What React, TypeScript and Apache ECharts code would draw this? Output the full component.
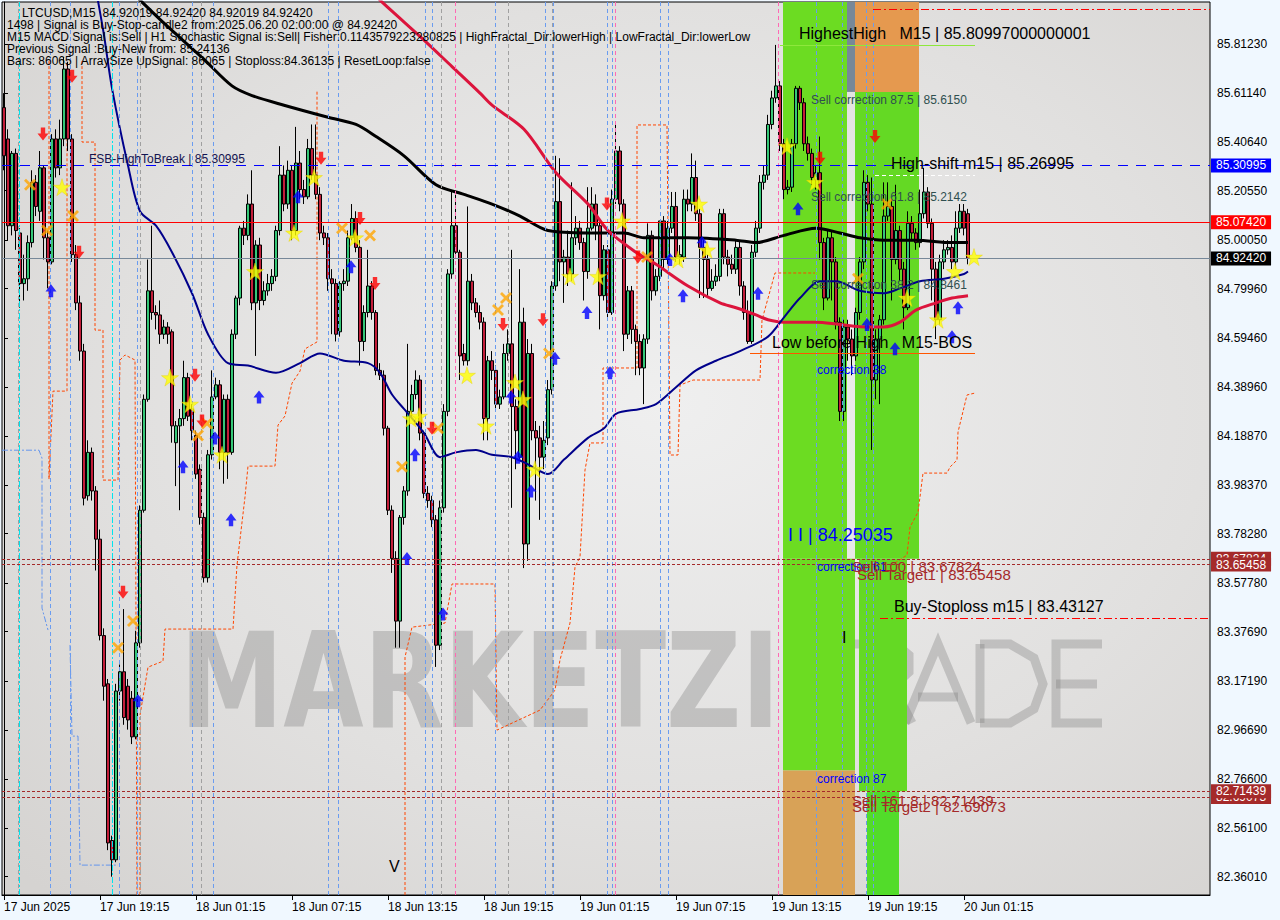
import React, { useEffect, useRef } from 'react';
import * as echarts from 'echarts';

// ---------- data ----------
const tickLabels = ['17 Jun 2025', '17 Jun 19:15', '18 Jun 01:15', '18 Jun 07:15', '18 Jun 13:15', '18 Jun 19:15', '19 Jun 01:15', '19 Jun 07:15', '19 Jun 13:15', '19 Jun 19:15', '20 Jun 01:15'];
const barsPerTick = 24;
const slotCount = 302;

const opens = [
  85.55, 85.42, 85.06, 85.36, 85.03, 84.82, 84.84, 84.99, 85.24, 85.12,
  85.30, 85.01, 84.91, 85.42, 85.30, 85.42, 85.71, 85.42, 84.94, 84.74,
  84.54, 83.94, 84.12, 83.96, 83.76, 83.36, 83.16, 82.51, 82.43, 83.13,
  83.21, 83.15, 83.10, 82.94, 83.33, 83.88, 84.34, 84.79, 84.70, 84.69,
  84.61, 84.64, 84.62, 84.16, 84.23, 84.26, 84.43, 84.30, 84.19, 84.05,
  83.85, 83.60, 84.11, 84.35, 84.40, 84.12, 84.34, 84.12, 84.61, 84.76,
  85.05, 85.02, 85.15, 84.74, 84.98, 84.75, 84.79, 84.82, 84.85, 85.04,
  85.27, 85.15, 85.29, 85.04, 85.32, 85.21, 85.18, 85.38, 85.27, 85.19,
  85.03, 85.01, 84.84, 84.82, 84.62, 84.82, 84.83, 85.01, 85.09, 84.97,
  84.58, 84.70, 84.81, 84.70, 84.46, 84.44, 84.22, 83.88, 83.68, 83.42,
  83.85, 83.96, 84.29, 84.36, 84.42, 84.20, 83.95, 83.92, 83.84, 83.32,
  83.89, 84.29, 84.86, 85.06, 84.95, 84.53, 84.50, 84.83, 84.74, 84.70,
  84.66, 84.26, 84.50, 84.46, 84.32, 84.35, 84.53, 84.57, 84.31, 84.10,
  84.66, 83.74, 84.53, 84.21, 84.18, 84.10, 84.18, 84.38, 84.81, 85.16,
  84.91, 84.93, 84.86, 85.01, 85.05, 84.99, 84.87, 85.05, 85.15, 85.06,
  84.77, 84.96, 84.70, 85.17, 85.37, 85.15, 84.61, 84.79, 84.63, 84.58,
  84.47, 84.59, 85.02, 84.79, 84.85, 85.08, 84.92, 85.05, 85.14, 84.93,
  84.93, 85.17, 85.15, 85.26, 85.11, 84.97, 84.92, 84.80, 84.83, 84.85,
  85.11, 84.93, 84.90, 84.88, 84.97, 84.81, 84.70, 84.58, 84.95, 85.05,
  85.24, 85.27, 85.48, 85.59, 85.64, 85.40, 85.21, 85.22, 85.40, 85.63,
  85.57, 85.40, 85.36, 85.25, 85.28, 84.99, 84.76, 85.01, 84.91, 84.66,
  84.29, 84.64, 84.59, 84.52, 84.70, 84.91, 85.24, 85.15, 84.42, 84.59,
  84.67, 85.10, 85.14, 84.92, 85.04, 84.88, 84.72, 85.07, 85.03, 84.99,
  85.11, 85.20, 85.07, 84.88, 84.67, 84.91, 84.96, 84.97, 84.91, 85.05,
  85.12, 85.11,
];
const closes = [
  85.35, 85.06, 85.36, 85.04, 84.82, 84.84, 84.99, 85.24, 85.14, 85.30,
  85.01, 84.91, 85.42, 85.30, 85.42, 85.71, 85.42, 84.94, 84.74, 84.54,
  83.93, 84.12, 83.96, 83.76, 83.36, 83.15, 82.50, 82.43, 83.13, 83.21,
  83.02, 83.01, 82.94, 83.33, 83.88, 84.34, 84.79, 84.70, 84.69, 84.61,
  84.64, 84.61, 84.23, 84.23, 84.26, 84.43, 84.27, 84.21, 84.03, 83.85,
  83.60, 84.11, 84.35, 84.40, 84.12, 84.34, 84.12, 84.61, 84.76, 85.05,
  85.02, 85.15, 84.74, 84.98, 84.75, 84.79, 84.82, 84.85, 85.04, 85.27,
  85.15, 85.29, 85.04, 85.32, 85.21, 85.18, 85.38, 85.27, 85.19, 85.03,
  85.01, 84.84, 84.82, 84.61, 84.82, 84.83, 85.01, 85.09, 84.97, 84.58,
  84.70, 84.81, 84.70, 84.46, 84.44, 84.22, 83.88, 83.68, 83.42, 83.85,
  83.96, 84.29, 84.36, 84.42, 84.20, 83.95, 83.92, 83.84, 83.32, 83.89,
  84.29, 84.86, 85.06, 84.95, 84.52, 84.50, 84.83, 84.74, 84.70, 84.66,
  84.26, 84.50, 84.46, 84.32, 84.35, 84.53, 84.57, 84.31, 84.21, 84.66,
  83.74, 84.53, 84.21, 84.18, 84.10, 84.17, 84.38, 84.81, 85.16, 84.91,
  84.93, 84.86, 85.01, 85.05, 84.99, 84.87, 85.05, 85.15, 85.06, 84.77,
  84.96, 84.70, 85.17, 85.37, 85.15, 84.61, 84.79, 84.63, 84.58, 84.47,
  84.59, 85.02, 84.79, 84.85, 85.08, 84.92, 85.05, 85.14, 84.93, 84.94,
  85.17, 85.15, 85.26, 85.11, 84.97, 84.92, 84.80, 84.83, 84.85, 85.11,
  84.93, 84.90, 84.88, 84.97, 84.81, 84.70, 84.58, 84.95, 85.05, 85.24,
  85.27, 85.48, 85.59, 85.64, 85.40, 85.21, 85.22, 85.40, 85.63, 85.57,
  85.40, 85.36, 85.26, 85.28, 84.99, 84.76, 85.01, 84.91, 84.66, 84.29,
  84.64, 84.59, 84.52, 84.70, 84.91, 85.24, 85.15, 84.42, 84.59, 84.67,
  85.10, 85.14, 84.92, 85.04, 84.88, 84.72, 85.07, 85.03, 84.99, 85.11,
  85.20, 85.07, 84.88, 84.67, 84.91, 84.96, 84.97, 84.91, 85.05, 85.12,
  85.05, 84.924,
];
const highs = [
  85.61, 85.46, 85.37, 85.38, 85.05, 84.94, 85.02, 85.29, 85.27, 85.37,
  85.31, 85.04, 85.44, 85.46, 85.50, 85.76, 85.74, 85.44, 84.98, 84.77,
  84.57, 84.17, 84.14, 83.98, 83.80, 83.39, 83.18, 82.53, 83.16, 83.24,
  83.47, 83.18, 83.13, 83.38, 83.90, 84.36, 84.92, 85.06, 84.73, 84.75,
  84.67, 84.66, 84.63, 84.25, 84.30, 84.50, 84.45, 84.32, 84.21, 84.07,
  83.87, 84.13, 84.46, 84.43, 84.42, 84.36, 84.36, 84.63, 84.77, 85.06,
  85.08, 85.19, 85.29, 85.00, 85.01, 84.83, 84.86, 84.88, 85.06, 85.39,
  85.31, 85.33, 85.31, 85.47, 85.37, 85.25, 85.42, 85.48, 85.48, 85.22,
  85.06, 85.03, 84.88, 84.84, 84.83, 84.88, 85.04, 85.15, 85.12, 85.00,
  84.73, 84.96, 84.83, 84.71, 84.49, 84.46, 84.23, 83.90, 83.71, 83.86,
  83.98, 84.57, 84.40, 84.46, 84.44, 84.21, 83.98, 83.94, 83.86, 83.92,
  84.32, 84.88, 85.20, 85.20, 84.96, 84.57, 85.14, 84.86, 84.76, 84.73,
  84.68, 84.52, 84.54, 84.48, 84.38, 84.57, 84.63, 84.96, 84.34, 84.88,
  84.72, 84.59, 84.57, 84.25, 84.23, 84.25, 84.42, 84.83, 85.35, 85.34,
  84.96, 85.04, 85.24, 85.10, 85.08, 85.01, 85.22, 85.22, 85.19, 85.09,
  84.98, 84.98, 85.21, 85.49, 85.39, 85.17, 84.81, 84.81, 84.65, 84.61,
  84.61, 85.07, 85.04, 84.88, 85.08, 85.10, 85.08, 85.20, 85.20, 84.98,
  85.21, 85.21, 85.36, 85.33, 85.13, 85.00, 84.94, 84.88, 84.90, 85.13,
  85.13, 84.96, 84.94, 85.00, 85.00, 84.83, 84.75, 84.98, 85.08, 85.27,
  85.31, 85.52, 85.62, 85.81, 85.66, 85.42, 85.25, 85.42, 85.64, 85.64,
  85.59, 85.43, 85.38, 85.31, 85.43, 85.01, 85.04, 85.04, 84.93, 84.68,
  84.67, 84.67, 84.63, 84.72, 84.93, 85.29, 85.27, 85.26, 84.63, 84.69,
  85.24, 85.24, 85.17, 85.23, 85.06, 84.91, 85.12, 85.10, 85.05, 85.21,
  85.30, 85.22, 85.09, 84.91, 84.94, 85.00, 85.00, 85.02, 85.12, 85.15,
  85.15, 85.13,
];
const lows = [
  85.29, 85.00, 85.02, 84.96, 84.72, 84.75, 84.79, 84.97, 85.10, 85.08,
  84.92, 84.80, 84.90, 85.26, 85.27, 85.39, 85.37, 84.91, 84.71, 84.50,
  83.90, 83.92, 83.92, 83.63, 83.34, 83.09, 82.47, 82.36, 82.42, 83.09,
  82.99, 82.97, 82.91, 82.93, 83.31, 83.87, 84.33, 84.67, 84.63, 84.57,
  84.59, 84.57, 84.16, 83.98, 83.88, 84.23, 84.25, 84.17, 84.01, 83.82,
  83.58, 83.58, 84.09, 84.34, 84.05, 83.99, 84.01, 84.11, 84.59, 84.73,
  84.98, 85.00, 84.71, 84.52, 84.71, 84.73, 84.77, 84.79, 84.83, 85.02,
  85.12, 85.13, 85.00, 85.02, 85.17, 85.15, 85.17, 85.25, 85.17, 85.00,
  84.98, 84.79, 84.61, 84.58, 84.60, 84.79, 84.81, 85.00, 84.95, 84.48,
  84.54, 84.68, 84.67, 84.44, 84.42, 84.19, 83.86, 83.62, 83.31, 83.31,
  83.82, 83.94, 84.26, 84.34, 84.17, 83.93, 83.89, 83.81, 83.23, 83.30,
  83.87, 84.27, 84.84, 84.93, 84.42, 84.48, 84.48, 84.71, 84.68, 84.63,
  84.17, 84.17, 84.42, 84.30, 84.30, 84.34, 84.50, 83.89, 84.05, 84.09,
  83.64, 83.67, 84.17, 83.92, 83.84, 84.05, 84.15, 84.36, 84.79, 84.83,
  84.74, 84.81, 84.83, 84.98, 84.96, 84.75, 84.84, 85.04, 85.00, 84.63,
  84.75, 84.67, 84.69, 85.15, 85.12, 84.54, 84.59, 84.57, 84.44, 84.44,
  84.32, 84.57, 84.75, 84.77, 84.83, 84.88, 84.90, 85.03, 84.91, 84.90,
  84.91, 85.12, 85.12, 85.08, 84.76, 84.76, 84.76, 84.79, 84.81, 84.83,
  84.90, 84.85, 84.86, 84.86, 84.77, 84.67, 84.57, 84.57, 84.93, 85.03,
  85.21, 85.25, 85.46, 85.57, 85.37, 85.17, 85.19, 85.20, 85.38, 85.54,
  85.37, 85.33, 85.23, 85.21, 84.92, 84.71, 84.75, 84.75, 84.63, 84.25,
  84.25, 84.50, 84.44, 84.50, 84.67, 84.88, 85.12, 84.13, 84.34, 84.32,
  84.65, 85.08, 84.75, 84.90, 84.83, 84.63, 84.71, 85.00, 84.96, 84.97,
  85.09, 85.05, 84.75, 84.59, 84.65, 84.88, 84.94, 84.88, 84.88, 85.03,
  85.02, 84.90,
];

// moving averages as [bar index, price]
const maBlack = [[30, 86.06], [34, 85.996], [40, 85.90], [50, 85.75], [57, 85.64], [62, 85.60], [70, 85.56], [81, 85.51], [88, 85.48], [93, 85.43], [100, 85.35], [108, 85.23], [115, 85.19], [122, 85.15], [129, 85.10], [136, 85.04], [146, 85.03], [155, 85.03], [160, 85.01], [171, 85.01], [183, 85.0], [188, 84.99], [195, 85.02], [203, 85.05], [209, 85.03], [214, 85.01], [220, 85.0], [228, 85.0], [237, 84.99], [241, 84.99]];
const maRed = [[90, 86.06], [94, 85.996], [97, 85.95], [105, 85.83], [112, 85.72], [119, 85.61], [122, 85.56], [130, 85.46], [138, 85.28], [146, 85.15], [151, 85.04], [158, 84.95], [163, 84.90], [171, 84.81], [179, 84.74], [183, 84.72], [188, 84.69], [191, 84.67], [195, 84.66], [203, 84.66], [209, 84.65], [216, 84.64], [220, 84.64], [224, 84.66], [228, 84.71], [233, 84.74], [237, 84.76], [241, 84.77]];
const maNavy = [[22, 86.14], [23, 86.04], [25, 85.85], [27, 85.63], [31, 85.31], [34, 85.12], [38, 85.06], [42, 84.95], [47, 84.78], [51, 84.61], [56, 84.49], [61, 84.48], [68, 84.45], [74, 84.49], [79, 84.53], [85, 84.50], [91, 84.49], [94, 84.45], [97, 84.36], [100, 84.30], [105, 84.20], [109, 84.10], [113, 84.12], [118, 84.13], [122, 84.11], [127, 84.10], [131, 84.07], [136, 84.03], [140, 84.09], [146, 84.18], [150, 84.22], [153, 84.28], [159, 84.30], [163, 84.32], [168, 84.39], [173, 84.46], [178, 84.50], [184, 84.54], [191, 84.60], [195, 84.68], [199, 84.76], [204, 84.83], [208, 84.83], [214, 84.79], [220, 84.78], [224, 84.80], [229, 84.83], [235, 84.84], [240, 84.86], [241, 84.87]];

// channel step lines as [bar index, price]
const channelA = [[11.25, 85.743], [11.25, 84.009], [12.25, 84.374], [15.75, 84.374], [15.75, 85.743]];
const channelB = [[19.5, 85.743], [19.5, 85.407], [22.75, 85.407], [22.75, 84.627], [24.75, 84.627], [24.75, 84.005], [28.5, 84.005], [29, 84.503], [30.25, 84.524], [32.75, 84.503], [33.25, 82.284]];
const channelC = [[34, 82.284], [34, 83.03], [36, 83.229], [39.75, 83.254], [40.25, 83.387], [57.25, 83.387], [58.25, 83.653], [60.25, 83.935], [61, 84.063], [67.75, 84.063], [68.5, 84.233], [70.25, 84.271], [72, 84.407], [74, 84.457], [75.25, 84.549], [78.25, 84.578], [78.25, 85.623]];
const channelD = [[100.25, 82.284], [100.25, 83.271], [102, 83.395], [110.25, 83.412], [112, 83.574], [122.75, 83.574], [123.25, 82.968], [134, 83.051], [137.75, 83.134], [139, 83.259], [141.5, 83.412], [142.75, 83.644], [144, 83.686], [145.25, 84.047], [146.5, 84.159], [149.75, 84.159], [149.75, 84.47], [158.25, 84.47], [158.25, 85.478], [165.75, 85.478], [166.5, 84.109], [168.5, 84.109], [169, 84.399], [172.25, 84.42], [189, 84.42], [189.5, 84.669], [192.75, 84.864], [202.75, 84.864]];
const channelE = [[222.75, 83.661], [225.75, 83.694], [226.5, 83.81], [228.5, 83.872], [229, 83.935], [229.75, 84.034], [235.75, 84.034], [236.5, 84.059], [238.25, 84.088], [238.5, 84.204], [240.75, 84.358], [242.75, 84.366]];
const stopTrailA = [[-0.5, 84.129], [8.75, 84.129], [9.5, 84.096], [9.5, 83.474], [11, 83.383]];
const stopTrailB = [[16.5, 83.321], [17, 82.943], [18.5, 82.943], [19, 82.408], [28.5, 82.408]];

// signal markers as [bar index, price]
const starMarks = [[14.5, 85.22], [41.5, 84.43], [46.5, 84.32], [54.5, 84.11], [62.75, 84.87], [72.5, 85.03], [77.5, 85.26], [87.75, 85.01], [101.75, 84.26], [103.75, 84.27], [115.75, 84.44], [120.5, 84.23], [127.75, 84.41], [129.75, 84.34], [132.75, 84.05], [141.5, 84.85], [148.5, 84.85], [154.5, 85.08], [168.5, 84.92], [173.75, 85.15], [175.75, 84.96], [195.75, 85.39], [202.75, 85.24], [225.75, 84.76], [233.5, 84.67], [237.75, 84.87], [242.5, 84.93]];
const crossMarks = [[6.5, 85.23], [10.75, 85.04], [17.25, 85.10], [48.5, 84.19], [50.75, 84.24], [28.5, 83.31], [32.25, 83.42], [84.5, 85.05], [91.5, 85.02], [99.5, 84.06], [108.5, 84.22], [123.5, 84.71], [125.5, 84.76], [136.25, 84.53], [160.75, 84.93], [213.5, 84.84], [220.75, 85.15]];
const sellArrows = [[9.75, 85.44], [17, 85.68], [18.75, 84.95], [47.75, 84.44], [49.5, 84.25], [29.75, 83.54], [79.25, 85.34], [89, 85.09], [92.75, 84.82], [107, 84.22], [124.75, 84.65], [134.75, 84.67], [150.75, 85.15], [158.5, 84.93], [204, 85.34], [217.75, 85.43]];
const buyArrows = [[11.75, 84.79], [44.75, 84.06], [52.75, 84.18], [56.75, 83.84], [33.5, 83.09], [63.75, 84.35], [73.5, 85.18], [86.75, 84.89], [100.75, 83.68], [102.75, 84.11], [109.75, 83.45], [126.75, 84.35], [128.5, 84.10], [131.75, 83.96], [137.75, 84.51], [145.75, 84.70], [151.5, 84.45], [166.5, 84.92], [169.75, 84.77], [174.5, 84.99], [188.5, 84.78], [198.5, 85.13], [215.75, 84.65], [222.75, 84.55], [237, 84.60], [238.5, 84.72]];

// price levels
const yMin = 82.284;
const yMax = 85.988;
const priceTicks = [85.8123, 85.6114, 85.4064, 85.2055, 85.0005, 84.7996, 84.5946, 84.3896, 84.1887, 83.9837, 83.7828, 83.5778, 83.3769, 83.1719, 82.9669, 82.766, 82.561, 82.3601];
const fsbHigh = 85.30995;
const redLevel = 85.0742;
const bidPrice = 84.9242;
const sell100 = 83.67824;
const sellTarget1 = 83.65458;
const sell1618 = 82.71439;
const sellTarget2 = 82.69073;
const buyStop = 83.43127;
const highestHigh = 85.80997;
const highShift = 85.26995;
const corr875 = 85.615;
const bosLevel = 84.53;
const topStop = 85.959;
const orangeBase = 82.80;

// zones: [fromBar, toBar, topPrice, bottomPrice, colourIndex]
const zones = [
  [194.75, 210.75, yMax, sell100, 0],
  [194.75, 212.75, sell100, orangeBase, 0],
  [194.75, 212.75, orangeBase, yMin, 3],
  [210.75, 212.75, yMax, corr875, 4],
  [212.75, 228.75, yMax, corr875, 2],
  [212.75, 228.75, corr875, sell100, 1],
  [213.75, 225.75, sell100, sell1618, 1],
  [215.75, 223.75, sell1618, yMin, 5],
];
const zoneColors = ['#6cdc22', '#64d924', '#e5994f', '#d8a257', '#778899', '#52dc2a'];

// vertical dashed markers (bar positions)
const blueVLines = [11.5, 16.5, 28.75, 33.25, 47, 52.25, 81, 83.5, 105.25, 107, 122.75, 135.25, 137.25, 150.75, 152, 164, 166, 203, 209.5, 215.5, 217.25];
const pinkVLines = [112.75, 152.75, 193.5];
const grayVLines = [3.5, 34, 49.25, 109.25, 126, 137];
const cyanVLines = [3.75, 27];

const headerLines = [
  'LTCUSD,M15  84.92019 84.92420 84.92019 84.92420',
  '1498 | Signal is Buy-Stop-candle2 from:2025.06.20 02:00:00 @ 84.92420',
  'M15 MACD Signal is:Sell | H1 Stochastic Signal is:Sell| Fisher:0.1143579223280825 | HighFractal_Dir:lowerHigh | LowFractal_Dir:lowerLow',
  'Previous Signal :Buy-New from: 85.24136',
  'Bars: 86065 | ArraySize UpSignal: 86065 | Stoploss:84.36135 | ResetLoop:false',
];

const FONT = '"Liberation Sans", Arial, sans-serif';

const STAR = 'path://M50,0 L61,35 L98,35 L68,57 L79,91 L50,70 L21,91 L32,57 L2,35 L39,35 Z';
const DOWN = 'path://M3,0 L7,0 L7,5 L10,5 L5,11 L0,5 L3,5 Z';
const UP = 'path://M5,0 L10,6 L7,6 L7,11 L3,11 L3,6 L0,6 Z';
const CROSS = 'path://M0,2 L2,0 L6,4 L10,0 L12,2 L8,6 L12,10 L10,12 L6,8 L2,12 L0,10 L4,6 Z';

function segLine(from: number, to: number, price: number, color: string, type: any, label?: string, bg?: string) {
  const first: any = { coord: [from, price], lineStyle: { color, type, width: 1 }, label: { show: false } };
  if (label) {
    first.label = {
      show: true, position: 'end', distance: 1, formatter: label,
      backgroundColor: bg, color: '#ffffff', padding: [1, 5, 0, 5],
      fontSize: 12, fontFamily: FONT, lineHeight: 13,
    };
  }
  return [first, { coord: [to, price] }];
}

function fullLine(price: number, color: string, type: any, label: string, bg: string) {
  return segLine(-0.5, slotCount - 0.5, price, color, type, label, bg);
}

function vLine(v: number, color: string, type: any) {
  return { xAxis: v, lineStyle: { color, type, width: 1 }, label: { show: false } };
}

function stepSeries(name: string, data: number[][], color: string, type: any) {
  return {
    type: 'line', name, xAxisIndex: 1, data, symbol: 'none', z: 2, silent: true,
    lineStyle: { color, width: 1, type },
  };
}

export default function App() {
  const ref = useRef<HTMLDivElement>(null);

  useEffect(() => {
    if (!ref.current) return;
    const chart = echarts.init(ref.current, undefined, { renderer: 'svg' });

    const categories = Array.from({ length: slotCount }, (_, i) =>
      i % barsPerTick === 0 && i / barsPerTick < tickLabels.length ? tickLabels[i / barsPerTick] : ''
    );
    const candleData = opens.map((o, i) => [o, closes[i], lows[i], highs[i]]);
    const showTick = (i: number) => i % barsPerTick === 0 && i / barsPerTick < tickLabels.length;

    let wmScale = 0.75;
    try {
      const ctx = document.createElement('canvas').getContext('2d');
      if (ctx) {
        ctx.font = '900 132px "DejaVu Sans"';
        const w = ctx.measureText('MARKETZI').width;
        if (w > 0) wmScale = 600 / w;
      }
    } catch (e) { /* ignore */ }

    const wmColor = 'rgba(120,120,120,0.33)';
    const tradeLetters = [
      [[790, 644], [872, 644]], [[822, 644], [822, 723]],
      [[864, 644], [864, 723]], [[864, 644], [896, 644], [909, 655], [909, 672], [896, 684], [864, 684]], [[892, 684], [912, 723]],
      [[905, 723], [938, 644], [971, 723]], [[918, 697], [958, 697]],
      [[980, 644], [980, 723]], [[980, 644], [1010, 644], [1034, 658], [1043, 684], [1034, 709], [1010, 723], [980, 723]],
      [[1102, 644], [1056, 644], [1056, 723], [1102, 723]], [[1056, 684], [1097, 684]],
    ];

    const annotations = [
      { t: 'FSB-HighToBreak | 85.30995', x: 89, y: 159, s: 12, c: '#141450' },
      { t: 'HighestHigh   M15 | 85.80997000000001', x: 799, y: 33, s: 16, c: '#000000' },
      { t: 'Sell correction 87.5 | 85.6150', x: 811, y: 100, s: 12, c: '#2f4f4f' },
      { t: 'High-shift m15 | 85.26995', x: 891, y: 163, s: 16, c: '#000000' },
      { t: 'Sell correction 61.8 | 85.2142', x: 811, y: 197, s: 12, c: '#2f4f4f' },
      { t: 'Sell correction 38.2 | 84.8461', x: 811, y: 285, s: 12, c: '#2f4f4f' },
      { t: 'Low before High   M15-BOS', x: 772, y: 342, s: 16, c: '#000000' },
      { t: 'correction 38', x: 817, y: 370, s: 12, c: '#0000ff' },
      { t: 'I I | 84.25035', x: 788, y: 535, s: 18, c: '#0000ff' },
      { t: 'correction 61', x: 817, y: 567, s: 12, c: '#0000ff' },
      { t: 'Sell 100 | 83.67824', x: 852, y: 566, s: 15, c: '#a52a2a' },
      { t: 'Sell Target1 | 83.65458', x: 857, y: 574, s: 15, c: '#a52a2a' },
      { t: 'Buy-Stoploss m15 | 83.43127', x: 894, y: 606, s: 16, c: '#000000' },
      { t: 'I', x: 842, y: 637, s: 16, c: '#000000' },
      { t: 'correction 87', x: 817, y: 779, s: 12, c: '#0000ff' },
      { t: 'Sell 161.8 | 82.71439', x: 852, y: 800, s: 15, c: '#a52a2a' },
      { t: 'Sell Target2 | 82.69073', x: 852, y: 806, s: 15, c: '#a52a2a' },
      { t: 'V', x: 389, y: 866, s: 16, c: '#000000' },
    ];

    const graphics: any[] = [];
    graphics.push({
      type: 'text', x: 180, y: 681, scaleX: wmScale, z: 1, silent: true,
      style: { text: 'MARKETZI', fontFamily: '"DejaVu Sans"', fontWeight: 900, fontSize: 132, fill: wmColor, verticalAlign: 'middle', textVerticalAlign: 'middle' },
    });
    tradeLetters.forEach((pts) => {
      graphics.push({ type: 'polyline', z: 1, silent: true, shape: { points: pts }, style: { stroke: wmColor, lineWidth: 9, fill: null, lineJoin: 'miter', lineCap: 'butt' } });
    });
    headerLines.forEach((t, i) => {
      graphics.push({
        type: 'text', x: i === 0 ? 22 : 7, y: 13 + i * 12.1, z: 20, silent: true,
        style: { text: t, fontFamily: FONT, fontSize: 12, fill: '#000000', verticalAlign: 'middle', textVerticalAlign: 'middle' },
      });
    });
    annotations.forEach((a) => {
      graphics.push({
        type: 'text', x: a.x, y: a.y, z: 20, silent: true,
        style: { text: a.t, fontFamily: FONT, fontSize: a.s, fill: a.c, verticalAlign: 'middle', textVerticalAlign: 'middle' },
      });
    });

    const option: any = {
      animation: false,
      backgroundColor: '#f0f8ff',
      grid: {
        left: 2, top: 2, width: 1208, height: 893, show: true,
        backgroundColor: new echarts.graphic.RadialGradient(0.55, 0.45, 0.75, [
          { offset: 0, color: '#efefef' },
          { offset: 0.6, color: '#e1e0df' },
          { offset: 1, color: '#d5d3d1' },
        ]),
        borderColor: '#000000', borderWidth: 1,
      },
      xAxis: [
        {
          type: 'category', data: categories, boundaryGap: true, gridIndex: 0,
          axisLine: { show: true, lineStyle: { color: '#000000', width: 1 } },
          axisTick: { show: true, interval: (i: number) => showTick(i), alignWithLabel: true, length: 5, lineStyle: { color: '#000000' } },
          axisLabel: {
            show: true, interval: (i: number) => showTick(i), align: 'left', margin: 6,
            fontSize: 12, fontFamily: FONT, color: '#000000',
          },
          splitLine: { show: false },
        },
        { type: 'value', min: -0.5, max: slotCount - 0.5, show: false, gridIndex: 0 },
      ],
      yAxis: {
        type: 'value', position: 'right', min: yMin, max: yMax, scale: true,
        axisLine: { show: true, lineStyle: { color: '#000000' } },
        axisTick: { show: true, customValues: priceTicks, length: 4, lineStyle: { color: '#000000' } },
        axisLabel: {
          show: true, customValues: priceTicks, margin: 7, fontSize: 12, fontFamily: FONT, color: '#000000',
          formatter: (v: number) => v.toFixed(5),
        },
        splitLine: { show: false },
      },
      graphic: graphics,
      series: [
        {
          type: 'custom', name: 'zones', xAxisIndex: 1, yAxisIndex: 0, z: 1, silent: true,
          data: zones,
          encode: { x: [0, 1], y: [2, 3] },
          renderItem: (params: any, api: any) => {
            const a = api.coord([api.value(0), api.value(2)]);
            const b = api.coord([api.value(1), api.value(3)]);
            return {
              type: 'rect',
              shape: { x: a[0], y: a[1], width: b[0] - a[0], height: b[1] - a[1] },
              style: { fill: zoneColors[api.value(4)] },
            };
          },
        },
        {
          type: 'line', name: 'vlines', xAxisIndex: 1, yAxisIndex: 0, z: 2, data: [], silent: true,
          markLine: {
            silent: true, symbol: ['none', 'none'], animation: false,
            data: [
              ...blueVLines.map((v) => vLine(v, '#6a9cf0', [4, 3])),
              ...pinkVLines.map((v) => vLine(v, '#ff69b4', [4, 3])),
              ...grayVLines.map((v) => vLine(v, '#a0a0a0', [4, 3])),
              ...cyanVLines.map((v) => vLine(v, '#00e5ee', [6, 2, 2, 2])),
            ],
          },
        },
        stepSeries('channelA', channelA, '#ff4500', [3, 2]),
        stepSeries('channelB', channelB, '#ff4500', [3, 2]),
        stepSeries('channelC', channelC, '#ff4500', [3, 2]),
        stepSeries('channelD', channelD, '#ff4500', [3, 2]),
        stepSeries('channelE', channelE, '#ff4500', [3, 2]),
        stepSeries('trailA', stopTrailA, '#6495ed', [6, 2, 2, 2]),
        stepSeries('trailB', stopTrailB, '#6495ed', [6, 2, 2, 2]),
        {
          type: 'candlestick', name: 'LTCUSD', xAxisIndex: 0, yAxisIndex: 0, z: 3,
          data: candleData, barWidth: 3,
          itemStyle: { color: '#36c777', color0: '#c21e3a', borderColor: '#000000', borderColor0: '#000000', borderWidth: 1 },
        },
        {
          type: 'line', name: 'MA slow', xAxisIndex: 1, data: maBlack, smooth: 0.3, symbol: 'none', z: 4,
          lineStyle: { color: '#000000', width: 3 },
        },
        {
          type: 'line', name: 'MA mid', xAxisIndex: 1, data: maRed, smooth: 0.3, symbol: 'none', z: 4,
          lineStyle: { color: '#dc143c', width: 3 },
        },
        {
          type: 'line', name: 'MA fast', xAxisIndex: 1, data: maNavy, smooth: 0.3, symbol: 'none', z: 4,
          lineStyle: { color: '#00008b', width: 2 },
        },
        {
          type: 'line', name: 'hlevels', xAxisIndex: 1, yAxisIndex: 0, z: 5, data: [], silent: true,
          markLine: {
            silent: true, symbol: ['none', 'none'], animation: false,
            data: [
              fullLine(fsbHigh, '#0000ff', [10, 8], fsbHigh.toFixed(5), '#0000ff'),
              fullLine(redLevel, '#ff0000', 'solid', redLevel.toFixed(5), '#ff0000'),
              fullLine(bidPrice, '#778899', 'solid', bidPrice.toFixed(5), '#000000'),
              fullLine(sell100, '#a52a2a', [3, 2], sell100.toFixed(5), '#a52a2a'),
              fullLine(sellTarget1, '#a52a2a', [3, 2], sellTarget1.toFixed(5), '#a52a2a'),
              fullLine(sellTarget2, '#a52a2a', [3, 2], sellTarget2.toFixed(5), '#a52a2a'),
              fullLine(sell1618, '#a52a2a', [3, 2], sell1618.toFixed(5), '#a52a2a'),
              segLine(219, slotCount - 0.5, buyStop, '#ff0000', [8, 3, 2, 3]),
              segLine(217.25, slotCount - 0.5, topStop, '#ff0000', [8, 3, 2, 3]),
              segLine(194, 242.75, highestHigh, '#8ee83c', 'solid'),
              segLine(217.75, 242.75, highShift, '#ffffff', [4, 3]),
              segLine(186.5, 242.75, bosLevel, '#ff5500', 'solid'),
            ],
          },
        },
        {
          type: 'scatter', name: 'cross', xAxisIndex: 1, data: crossMarks, symbol: CROSS, symbolSize: 12, z: 6,
          itemStyle: { color: '#ffa500' }, silent: true,
        },
        {
          type: 'scatter', name: 'sell', xAxisIndex: 1, data: sellArrows, symbol: DOWN, symbolSize: [11, 13], z: 6,
          itemStyle: { color: '#ff0000' }, silent: true,
        },
        {
          type: 'scatter', name: 'buy', xAxisIndex: 1, data: buyArrows, symbol: UP, symbolSize: [11, 13], z: 6,
          itemStyle: { color: '#0000ff' }, silent: true,
        },
        {
          type: 'scatter', name: 'star', xAxisIndex: 1, data: starMarks, symbol: STAR, symbolSize: 17, z: 7,
          itemStyle: { color: '#ffff00', borderColor: '#e8d000', borderWidth: 0.5 }, silent: true,
        },
      ],
    };

    chart.setOption(option);
    return () => chart.dispose();
  }, []);

  return (
    <div style={{ position: 'fixed', left: 0, top: 0, width: 1280, height: 920, background: '#f0f8ff' }}>
      <div ref={ref} style={{ width: 1280, height: 920 }} />
    </div>
  );
}
